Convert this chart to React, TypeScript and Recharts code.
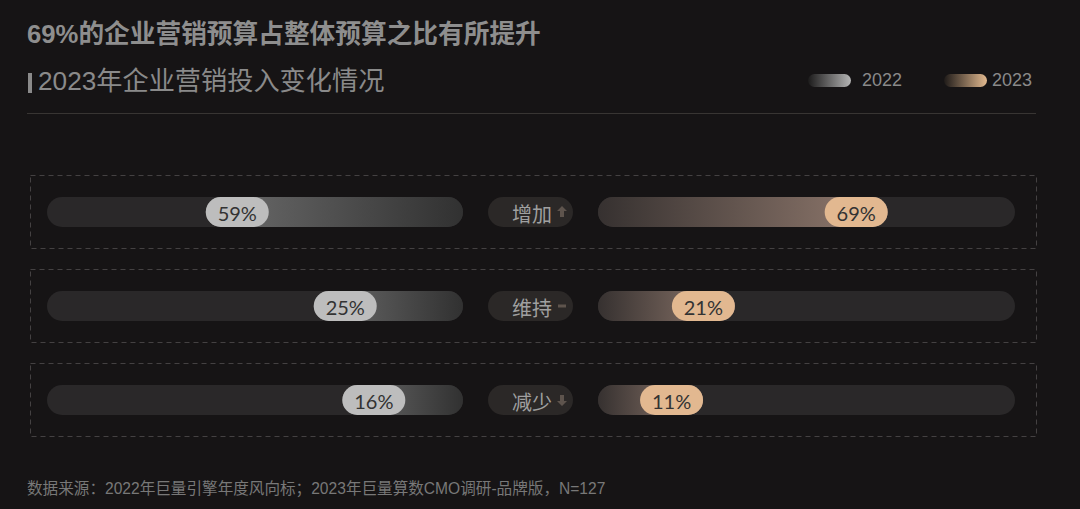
import React from 'react';
import { BarChart, Bar, XAxis, YAxis } from 'recharts';

const categories = ['增加', '维持', '减少'];
const share2022 = [59, 25, 16];
const share2023 = [69, 21, 11];
const legendYears = ['2022', '2023'];

const title = '69%的企业营销预算占整体预算之比有所提升';
const subtitle = '2023年企业营销投入变化情况';
const source = '数据来源：2022年巨量引擎年度风向标；2023年巨量算数CMO调研-品牌版，N=127';

const data = categories.map((name, i) => ({ name, y2022: share2022[i], y2023: share2023[i] }));

// the original bars never start at zero, the value pill sits on a base length,
// so the axis starts a bit below 0 and the bar is drawn from the track start
const DOMAIN: [number, number] = [-22, 109];

const BG = '#161415';
const TRACK = '#2a2829';
const PILL_W = 63;
const BAR_H = 30;
const CHART_TOP = 165;
const ROW_H = 94;
const CHART_H = ROW_H * categories.length;
const LABEL_W = 110;
const FONT = '"Liberation Sans", "Noto Sans CJK SC", sans-serif';
const NUM_FONT = 'Lato, "Noto Sans", "Noto Sans CJK SC", sans-serif';

const ARROWS: Record<string, 'up' | 'flat' | 'down'> = { 增加: 'up', 维持: 'flat', 减少: 'down' };

function LeftBar(props: any) {
  const { x, y, width, height, background, payload } = props;
  const end = Math.min(x, x + width);
  const right = background ? background.x + background.width : Math.max(x, x + width);
  const pillX = Math.min(end, right - PILL_W);
  const r = height / 2;
  return (
    <g>
      <rect x={pillX} y={y} width={right - pillX} height={height} rx={r} fill="url(#g2022)" />
      <rect x={pillX} y={y} width={PILL_W} height={height} rx={r} fill="#bdbdbd" />
      <text
        x={pillX + PILL_W / 2}
        y={y + height / 2 + 1}
        textAnchor="middle"
        dominantBaseline="central"
        fontSize={20}
        fill="#333"
        fontFamily={NUM_FONT}
      >
        {payload.y2022}%
      </text>
    </g>
  );
}

function RightBar(props: any) {
  const { x, y, width, height, background, payload } = props;
  const end = Math.max(x, x + width);
  const left = background ? background.x : Math.min(x, x + width);
  const pillX = Math.max(left, end - PILL_W);
  const r = height / 2;
  return (
    <g>
      <rect x={left} y={y} width={pillX + PILL_W - left} height={height} rx={r} fill="url(#g2023)" />
      <rect x={pillX} y={y} width={PILL_W} height={height} rx={r} fill="#e2b890" />
      <text
        x={pillX + PILL_W / 2}
        y={y + height / 2 + 1}
        textAnchor="middle"
        dominantBaseline="central"
        fontSize={20}
        fill="#333"
        fontFamily={NUM_FONT}
      >
        {payload.y2023}%
      </text>
    </g>
  );
}

function CenterTick(props: any) {
  const { x, y, payload } = props;
  const kind = ARROWS[payload.value];
  const ax = x - 36;
  const col = '#5e544d';
  return (
    <g>
      <rect x={x - LABEL_W} y={y - BAR_H / 2} width={85} height={BAR_H} rx={BAR_H / 2} fill="#2b2827" />
      <text
        x={x - 46}
        y={y + 1}
        textAnchor="end"
        dominantBaseline="central"
        fontSize={20}
        fill="#a0a0a0"
        fontFamily='"Noto Sans CJK SC", sans-serif'
      >
        {payload.value}
      </text>
      {kind === 'up' && (
        <path d={`M${ax} ${y - 6} L${ax + 5} ${y - 1} L${ax + 2} ${y - 1} L${ax + 2} ${y + 5} L${ax - 2} ${y + 5} L${ax - 2} ${y - 1} L${ax - 5} ${y - 1} Z`} fill={col} />
      )}
      {kind === 'down' && (
        <path d={`M${ax} ${y + 6} L${ax + 5} ${y + 1} L${ax + 2} ${y + 1} L${ax + 2} ${y - 5} L${ax - 2} ${y - 5} L${ax - 2} ${y + 1} L${ax - 5} ${y + 1} Z`} fill={col} />
      )}
      {kind === 'flat' && <rect x={ax - 4} y={y - 1.5} width={8} height={3} fill={col} />}
    </g>
  );
}

function Legend() {
  const grads = ['linear-gradient(to right, #1c1b1b, #b4b4b4)', 'linear-gradient(to right, #1f1b19, #e2b98f)'];
  const pillLefts = [808, 944];
  const textLefts = [862, 992];
  return (
    <>
      {legendYears.map((yr, i) => (
        <div key={yr}>
          <div
            style={{
              position: 'absolute',
              left: pillLefts[i],
              top: 74,
              width: 43,
              height: 13,
              borderRadius: 7,
              background: grads[i],
            }}
          />
          <div
            style={{
              position: 'absolute',
              left: textLefts[i],
              top: 70,
              fontSize: 18,
              lineHeight: '20px',
              color: '#8a8a8a',
            }}
          >
            {yr}
          </div>
        </div>
      ))}
    </>
  );
}

export default function App() {
  return (
    <div
      style={{
        position: 'absolute',
        left: 0,
        top: 0,
        width: 1080,
        height: 509,
        background: BG,
        overflow: 'hidden',
        fontFamily: FONT,
      }}
    >
      <div style={{ position: 'absolute', left: 27, top: 20, fontSize: 25.7, lineHeight: '29px', fontWeight: 700, color: '#8e8e8e', whiteSpace: 'nowrap' }}>
        {title}
      </div>
      <div style={{ position: 'absolute', left: 28, top: 73, width: 4, height: 20, background: '#8a8a8a' }} />
      <div style={{ position: 'absolute', left: 38, top: 67, fontSize: 26.2, lineHeight: '28px', color: '#8a8a8a', whiteSpace: 'nowrap' }}>
        {subtitle}
      </div>
      <Legend />
      <div style={{ position: 'absolute', left: 27, top: 113, width: 1009, height: 1, background: '#383533' }} />

      <svg style={{ position: 'absolute', left: 0, top: 0 }} width={1080} height={509}>
        {categories.map((c, i) => (
          <rect
            key={c}
            x={30.5}
            y={CHART_TOP + ROW_H * (i + 0.5) - 36.5}
            width={1006}
            height={73}
            fill="none"
            stroke="#444142"
            strokeDasharray="5 4"
          />
        ))}
      </svg>

      <div style={{ position: 'absolute', left: 47, top: CHART_TOP }}>
        <BarChart width={416} height={CHART_H} data={data} layout="vertical" margin={{ top: 0, right: 0, bottom: 0, left: 0 }}>
          <defs>
            <linearGradient id="g2022" x1="0" y1="0" x2="1" y2="0">
              <stop offset="0%" stopColor="#6e6e6e" />
              <stop offset="100%" stopColor="#313131" />
            </linearGradient>
          </defs>
          <XAxis type="number" domain={DOMAIN} reversed hide />
          <YAxis type="category" dataKey="name" hide />
          <Bar
            dataKey="y2022"
            barSize={BAR_H}
            background={{ fill: TRACK, radius: BAR_H / 2 }}
            shape={LeftBar}
            isAnimationActive={false}
          />
        </BarChart>
      </div>

      <div style={{ position: 'absolute', left: 598 - LABEL_W, top: CHART_TOP }}>
        <BarChart width={LABEL_W + 417} height={CHART_H} data={data} layout="vertical" margin={{ top: 0, right: 0, bottom: 0, left: 0 }}>
          <defs>
            <linearGradient id="g2023" x1="0" y1="0" x2="1" y2="0">
              <stop offset="0%" stopColor="#363130" />
              <stop offset="100%" stopColor="#947c70" />
            </linearGradient>
          </defs>
          <XAxis type="number" domain={DOMAIN} hide />
          <YAxis
            type="category"
            dataKey="name"
            width={LABEL_W}
            axisLine={false}
            tickLine={false}
            tickSize={0}
            tickMargin={0}
            tick={CenterTick}
            interval={0}
          />
          <Bar
            dataKey="y2023"
            barSize={BAR_H}
            background={{ fill: TRACK, radius: BAR_H / 2 }}
            shape={RightBar}
            isAnimationActive={false}
          />
        </BarChart>
      </div>

      <div style={{ position: 'absolute', left: 27, top: 479, fontSize: 15.6, lineHeight: '20px', color: '#787878', whiteSpace: 'nowrap' }}>
        {source}
      </div>
    </div>
  );
}
